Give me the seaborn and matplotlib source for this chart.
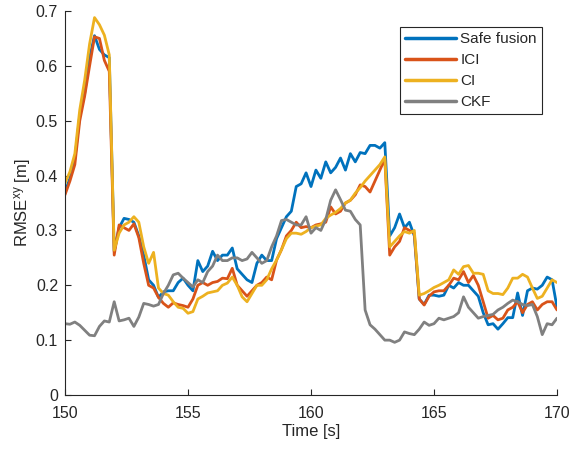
import numpy as np
import pandas as pd
import matplotlib
matplotlib.use("Agg")
import matplotlib.pyplot as plt
import seaborn as sns

# time grid (s)
time_s = [round(150 + 0.2 * i, 1) for i in range(101)]

safe_fusion = [
    0.370, 0.395, 0.430, 0.510, 0.550, 0.615, 0.655, 0.630, 0.620, 0.615,
    0.262, 0.305, 0.322, 0.320, 0.315, 0.290, 0.255, 0.210, 0.200, 0.178,
    0.188, 0.190, 0.190, 0.205, 0.213, 0.200, 0.190, 0.245, 0.225, 0.235,
    0.262, 0.245, 0.255, 0.255, 0.268, 0.230, 0.220, 0.210, 0.205, 0.240,
    0.255, 0.245, 0.245, 0.285, 0.305, 0.325, 0.335, 0.380, 0.385, 0.405,
    0.380, 0.410, 0.395, 0.425, 0.405, 0.415, 0.432, 0.410, 0.440, 0.425,
    0.442, 0.440, 0.455, 0.455, 0.450, 0.460, 0.290, 0.305, 0.330, 0.305,
    0.315, 0.290, 0.175, 0.165, 0.182, 0.182, 0.180, 0.182, 0.200, 0.195,
    0.205, 0.200, 0.200, 0.190, 0.180, 0.150, 0.128, 0.130, 0.120, 0.130,
    0.141, 0.141, 0.186, 0.145, 0.190, 0.195, 0.193, 0.200, 0.215, 0.210,
    0.160]

ici = [
    0.365, 0.390, 0.420, 0.500, 0.545, 0.600, 0.653, 0.650, 0.610, 0.590,
    0.255, 0.310, 0.305, 0.300, 0.312, 0.287, 0.240, 0.200, 0.195, 0.178,
    0.167, 0.160, 0.168, 0.165, 0.163, 0.160, 0.175, 0.200, 0.205, 0.200,
    0.205, 0.207, 0.213, 0.212, 0.231, 0.200, 0.190, 0.180, 0.190, 0.200,
    0.205, 0.215, 0.210, 0.246, 0.265, 0.290, 0.300, 0.315, 0.305, 0.307,
    0.305, 0.310, 0.312, 0.315, 0.343, 0.330, 0.335, 0.350, 0.355, 0.365,
    0.383, 0.380, 0.370, 0.390, 0.410, 0.430, 0.255, 0.270, 0.280, 0.305,
    0.300, 0.295, 0.175, 0.164, 0.180, 0.188, 0.190, 0.190, 0.200, 0.213,
    0.210, 0.225, 0.205, 0.218, 0.200, 0.170, 0.140, 0.145, 0.137, 0.140,
    0.155, 0.160, 0.170, 0.150, 0.165, 0.170, 0.155, 0.165, 0.170, 0.170,
    0.155]

ci = [
    0.386, 0.407, 0.440, 0.520, 0.574, 0.640, 0.688, 0.675, 0.656, 0.620,
    0.264, 0.295, 0.310, 0.315, 0.325, 0.315, 0.270, 0.240, 0.260, 0.195,
    0.185, 0.182, 0.170, 0.160, 0.158, 0.149, 0.152, 0.175, 0.180, 0.186,
    0.188, 0.190, 0.200, 0.204, 0.215, 0.200, 0.179, 0.170, 0.185, 0.200,
    0.200, 0.210, 0.230, 0.246, 0.265, 0.285, 0.295, 0.295, 0.293, 0.298,
    0.305, 0.308, 0.310, 0.322, 0.328, 0.333, 0.340, 0.350, 0.355, 0.368,
    0.378, 0.390, 0.400, 0.410, 0.420, 0.434, 0.270, 0.280, 0.290, 0.298,
    0.295, 0.300, 0.182, 0.185, 0.190, 0.196, 0.200, 0.205, 0.210, 0.228,
    0.220, 0.234, 0.236, 0.222, 0.222, 0.220, 0.190, 0.185, 0.185, 0.183,
    0.195, 0.213, 0.213, 0.220, 0.215, 0.195, 0.176, 0.180, 0.195, 0.210,
    0.205]

ckf = [
    0.130, 0.129, 0.133, 0.127, 0.118, 0.109, 0.108, 0.125, 0.135, 0.133,
    0.170, 0.135, 0.137, 0.140, 0.125, 0.142, 0.167, 0.165, 0.162, 0.165,
    0.185, 0.200, 0.219, 0.222, 0.213, 0.205, 0.197, 0.210, 0.205, 0.225,
    0.235, 0.255, 0.245, 0.245, 0.250, 0.250, 0.245, 0.248, 0.260, 0.250,
    0.240, 0.245, 0.270, 0.290, 0.318, 0.320, 0.315, 0.310, 0.310, 0.325,
    0.295, 0.305, 0.300, 0.320, 0.355, 0.374, 0.356, 0.337, 0.335, 0.320,
    0.310, 0.155, 0.128, 0.120, 0.110, 0.100, 0.100, 0.096, 0.100, 0.115,
    0.112, 0.110, 0.120, 0.133, 0.127, 0.130, 0.140, 0.137, 0.140, 0.143,
    0.150, 0.179, 0.160, 0.150, 0.140, 0.143, 0.145, 0.147, 0.155, 0.160,
    0.167, 0.173, 0.170, 0.165, 0.163, 0.165, 0.143, 0.110, 0.130, 0.128,
    0.140]

series_names = ["Safe fusion", "ICI", "CI", "CKF"]
series_colors = ["#0072BD", "#D95319", "#EDB120", "#808080"]
x_ticks = [150, 155, 160, 165, 170]
y_ticks = [0, 0.1, 0.2, 0.3, 0.4, 0.5, 0.6, 0.7]
y_tick_labels = ["0", "0.1", "0.2", "0.3", "0.4", "0.5", "0.6", "0.7"]

frames = []
for name, vals in zip(series_names, [safe_fusion, ici, ci, ckf]):
    frames.append(pd.DataFrame({"Time": time_s, "RMSE": vals, "Method": name}))
df = pd.concat(frames, ignore_index=True)

sns.set_style("ticks")
plt.rcParams["font.family"] = ["Liberation Sans", "DejaVu Sans"]
plt.rcParams["mathtext.fontset"] = "custom"
plt.rcParams["mathtext.rm"] = "Liberation Sans"
plt.rcParams["mathtext.it"] = "Liberation Sans:italic"

dark = "#262626"
fig = plt.figure(figsize=(5.71, 4.49), dpi=100)
ax = fig.add_axes([65 / 571, 1 - 395 / 449, 492 / 571, 384 / 449])

sns.lineplot(data=df, x="Time", y="RMSE", hue="Method", hue_order=series_names,
             palette=dict(zip(series_names, series_colors)), linewidth=2.0,
             ax=ax, legend=True)

ax.set_xlim(150, 170)
ax.set_ylim(0, 0.7)
ax.set_xticks(x_ticks)
ax.set_yticks(y_ticks)
ax.set_yticklabels(y_tick_labels)
ax.tick_params(direction="in", length=4, width=0.8, colors=dark, labelsize=11.5,
               labelcolor=dark)
ax.tick_params(axis="x", pad=8)
ax.tick_params(axis="y", pad=5)
ax.set_xlabel("Time [s]", fontsize=12, color=dark, labelpad=2)
ax.set_ylabel(r"RMSE$^{\mathrm{xy}}$ [m]", fontsize=12, color=dark, labelpad=2)
for side in ["left", "bottom"]:
    ax.spines[side].set_color(dark)
    ax.spines[side].set_linewidth(0.8)
ax.spines["top"].set_visible(False)
ax.spines["right"].set_visible(False)

leg = ax.legend(loc="upper right", bbox_to_anchor=(0.970, 0.958), borderaxespad=0,
                frameon=True, fancybox=False, edgecolor=dark, fontsize=11,
                handlelength=3.3, handletextpad=0.3, labelspacing=0.45,
                borderpad=0.35, framealpha=1)
leg.get_frame().set_linewidth(0.8)
for line in leg.get_lines():
    line.set_linewidth(2.5)

fig.savefig("out.png", dpi=100)
